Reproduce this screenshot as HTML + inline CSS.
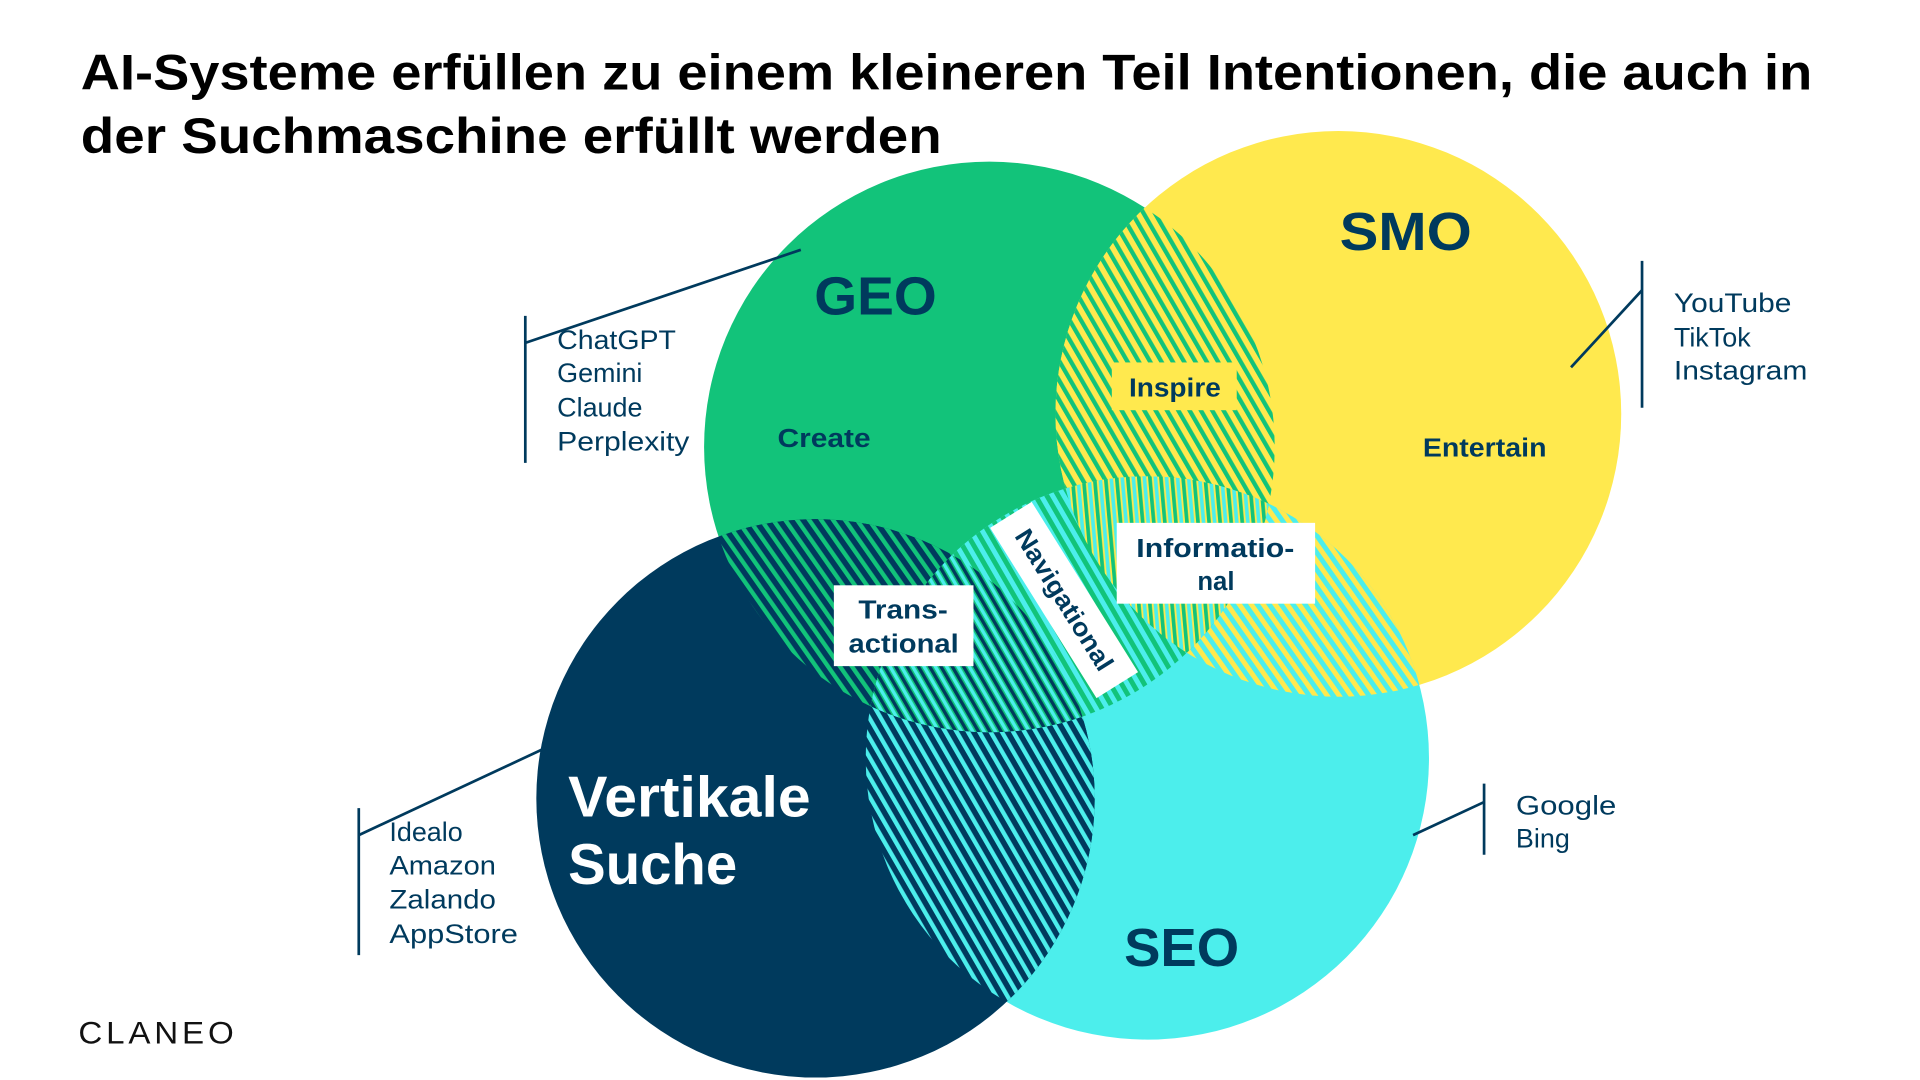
<!DOCTYPE html>
<html><head><meta charset="utf-8"><style>
html,body{margin:0;padding:0;background:#fff;}
svg{display:block}
text{font-family:"Liberation Sans",sans-serif;}
</style></head><body>
<svg width="1920" height="1080" viewBox="0 0 1568 882" xmlns="http://www.w3.org/2000/svg">
<defs>
<clipPath id="cG"><circle cx="808" cy="365" r="233"/></clipPath>
<clipPath id="cY"><circle cx="1093" cy="338" r="231"/></clipPath>
<clipPath id="cC"><circle cx="937" cy="619" r="230"/></clipPath>
<clipPath id="cD"><circle cx="666" cy="652" r="228"/></clipPath>
<pattern id="pGY" width="8" height="8" patternUnits="userSpaceOnUse" patternTransform="rotate(-30)"><rect width="8" height="8" fill="#ffe94e"/><rect width="3.5" height="8" fill="#12c37a"/></pattern>
<pattern id="pYC" width="8" height="8" patternUnits="userSpaceOnUse" patternTransform="rotate(-35)"><rect width="8" height="8" fill="#4ceeec"/><rect width="4" height="8" fill="#ffe94e"/></pattern>
<pattern id="pGD" width="8" height="8" patternUnits="userSpaceOnUse" patternTransform="rotate(-35)"><rect width="8" height="8" fill="#003a5d"/><rect width="3.5" height="8" fill="#12c37a"/></pattern>
<pattern id="pDC" width="8" height="8" patternUnits="userSpaceOnUse" patternTransform="rotate(-30)"><rect width="8" height="8" fill="#003a5d"/><rect width="3.5" height="8" fill="#4ceeec"/></pattern>
<pattern id="pGC" width="8" height="8" patternUnits="userSpaceOnUse" patternTransform="rotate(-30)"><rect width="8" height="8" fill="#4ceeec"/><rect width="4" height="8" fill="#12c37a"/></pattern>
<pattern id="pGDC" width="8" height="8" patternUnits="userSpaceOnUse" patternTransform="rotate(-30)"><rect width="8" height="8" fill="#12c37a"/><rect width="2.7" height="8" fill="#003a5d"/><rect x="4" width="2.7" height="8" fill="#4ceeec"/></pattern>
<pattern id="pGYC" width="9" height="9" patternUnits="userSpaceOnUse" patternTransform="rotate(-5)"><rect width="9" height="9" fill="#ffe94e"/><rect width="3" height="9" fill="#12c37a"/><rect x="4.5" width="3" height="9" fill="#4ceeec"/></pattern>
</defs>

<circle cx="808" cy="365" r="233" fill="#12c37a"/>
<circle cx="1093" cy="338" r="231" fill="#ffe94e"/>
<circle cx="937" cy="619" r="230" fill="#4ceeec"/>
<circle cx="666" cy="652" r="228" fill="#003a5d"/>

<g clip-path="url(#cG)"><rect x="0" y="0" width="1568" height="882" fill="url(#pGY)" clip-path="url(#cY)"/></g>
<g clip-path="url(#cY)"><rect x="0" y="0" width="1568" height="882" fill="url(#pYC)" clip-path="url(#cC)"/></g>
<g clip-path="url(#cG)"><rect x="0" y="0" width="1568" height="882" fill="url(#pGD)" clip-path="url(#cD)"/></g>
<g clip-path="url(#cD)"><rect x="0" y="0" width="1568" height="882" fill="url(#pDC)" clip-path="url(#cC)"/></g>
<g clip-path="url(#cG)"><rect x="0" y="0" width="1568" height="882" fill="url(#pGC)" clip-path="url(#cC)"/></g>
<g clip-path="url(#cG)"><g clip-path="url(#cD)"><rect x="0" y="0" width="1568" height="882" fill="url(#pGDC)" clip-path="url(#cC)"/></g></g>
<g clip-path="url(#cG)"><g clip-path="url(#cY)"><rect x="0" y="0" width="1568" height="882" fill="url(#pGYC)" clip-path="url(#cC)"/></g></g>

<text x="66" y="73" font-size="41" font-weight="bold" fill="#000" textLength="1414" lengthAdjust="spacingAndGlyphs">AI-Systeme erfüllen zu einem kleineren Teil Intentionen, die auch in</text>
<text x="66" y="125" font-size="41" font-weight="bold" fill="#000" textLength="703" lengthAdjust="spacingAndGlyphs">der Suchmaschine erfüllt werden</text>

<g fill="#003a5d" font-weight="bold">
<text x="665" y="257" font-size="44" textLength="100" lengthAdjust="spacingAndGlyphs">GEO</text>
<text x="1094" y="204" font-size="44" textLength="108" lengthAdjust="spacingAndGlyphs">SMO</text>
<text x="918" y="789" font-size="44" textLength="94" lengthAdjust="spacingAndGlyphs">SEO</text>
<text x="635" y="365" font-size="21" textLength="76" lengthAdjust="spacingAndGlyphs">Create</text>
<text x="1162" y="373" font-size="21" textLength="101" lengthAdjust="spacingAndGlyphs">Entertain</text>
</g>
<g fill="#fff" font-weight="bold" font-size="47">
<text x="464" y="667" textLength="198" lengthAdjust="spacingAndGlyphs">Vertikale</text>
<text x="464" y="722" textLength="138" lengthAdjust="spacingAndGlyphs">Suche</text>
</g>

<rect x="908" y="296" width="102" height="39" fill="#ffe94e"/>
<text x="922" y="324" font-size="21" font-weight="bold" fill="#003a5d" textLength="75" lengthAdjust="spacingAndGlyphs">Inspire</text>
<rect x="912" y="427" width="162" height="66" fill="#fff"/>
<text x="928" y="455" font-size="21" font-weight="bold" fill="#003a5d" textLength="129" lengthAdjust="spacingAndGlyphs">Informatio-</text>
<text x="993" y="482" font-size="21" font-weight="bold" fill="#003a5d" text-anchor="middle">nal</text>
<rect x="681" y="478" width="114" height="66" fill="#fff"/>
<text x="701" y="505" font-size="21" font-weight="bold" fill="#003a5d" textLength="73" lengthAdjust="spacingAndGlyphs">Trans-</text>
<text x="693" y="533" font-size="21" font-weight="bold" fill="#003a5d" textLength="90" lengthAdjust="spacingAndGlyphs">actional</text>
<g transform="translate(869,490) rotate(58)">
<rect x="-82" y="-20" width="164" height="40" fill="#fff"/>
<text x="-66" y="7" font-size="21" font-weight="bold" fill="#003a5d" textLength="132" lengthAdjust="spacingAndGlyphs">Navigational</text>
</g>

<g stroke="#003a5d" stroke-width="2.2" fill="none">
<line x1="429" y1="258" x2="429" y2="378"/><line x1="429" y1="280" x2="654" y2="204"/>
<line x1="1341" y1="213" x2="1341" y2="333"/><line x1="1341" y1="237" x2="1283" y2="300"/>
<line x1="1212" y1="640" x2="1212" y2="698"/><line x1="1212" y1="655" x2="1154" y2="682"/>
<line x1="293" y1="660" x2="293" y2="780"/><line x1="293" y1="682" x2="443" y2="612"/>
</g>
<g fill="#003a5d" font-size="22">
<text x="455" y="285" textLength="97" lengthAdjust="spacingAndGlyphs">ChatGPT</text><text x="455" y="312">Gemini</text><text x="455" y="340">Claude</text><text x="455" y="368" textLength="108" lengthAdjust="spacingAndGlyphs">Perplexity</text>
<text x="1367" y="255" textLength="96" lengthAdjust="spacingAndGlyphs">YouTube</text><text x="1367" y="283">TikTok</text><text x="1367" y="310" textLength="109" lengthAdjust="spacingAndGlyphs">Instagram</text>
<text x="1238" y="665" textLength="82" lengthAdjust="spacingAndGlyphs">Google</text><text x="1238" y="692">Bing</text>
<text x="318" y="687">Idealo</text><text x="318" y="714" textLength="87" lengthAdjust="spacingAndGlyphs">Amazon</text><text x="318" y="742" textLength="87" lengthAdjust="spacingAndGlyphs">Zalando</text><text x="318" y="770" textLength="105" lengthAdjust="spacingAndGlyphs">AppStore</text>
</g>
<text x="64" y="852" font-size="26" fill="#111" letter-spacing="3" textLength="130" lengthAdjust="spacingAndGlyphs">CLANEO</text>
</svg>
</body></html>
